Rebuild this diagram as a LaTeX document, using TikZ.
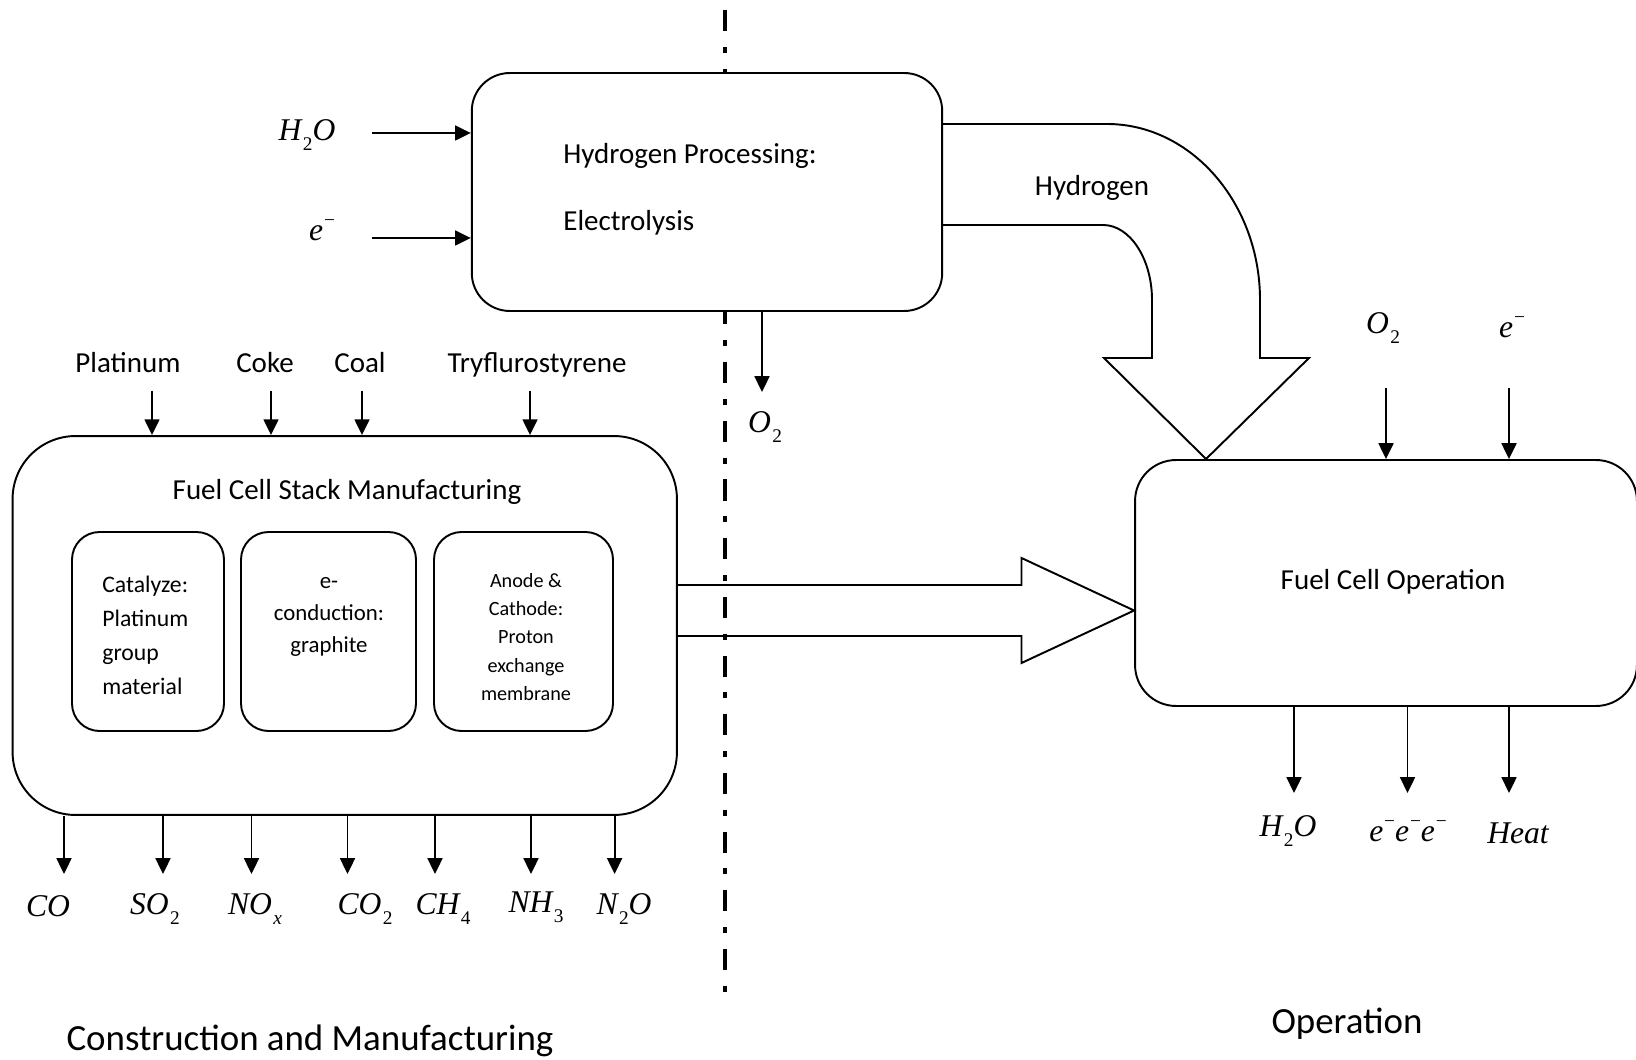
\documentclass[tikz,border=0pt]{standalone}
\usepackage{fontspec}
\setmainfont{Carlito}
\newfontfamily\tnr{Liberation Serif}
\usetikzlibrary{arrows.meta}

\newcommand{\chem}[1]{{\tnr\itshape\fontsize{18}{20}\selectfont #1}}
\newcommand{\lowsub}[1]{\kern0.8pt\raisebox{-0.7ex}{\fontsize{11}{11}\selectfont\upshape #1}}
\newcommand{\minussup}{\kern0.5pt\raisebox{1.0ex}{\fontsize{11}{11}\selectfont\upshape −}}

\tikzset{
	procbox/.style={draw,line width=1.1pt,fill=white,inner sep=0pt},
	flow/.style={line width=1.1pt,-{Triangle[length=9pt,width=8.5pt]}},
	blockarrow/.style={line width=1.1pt,line join=miter},
	sepline/.style={line width=2.8pt,dash pattern=on 12pt off 9pt on 3.4pt off 9pt},
	lbl/.style={inner sep=0pt,text height=1.6ex,text depth=0.4ex,font=\fontsize{16.5}{20}\selectfont},
	biglbl/.style={inner sep=0pt,text height=1.6ex,text depth=0.4ex,font=\fontsize{21}{24}\selectfont},
}

\begin{document}
\begin{tikzpicture}[x=0.02cm,y=-0.02cm]
	\useasboundingbox (0,0) rectangle (1636,1060);

	% dividing line
	\coordinate (septop) at (725,10);
	\coordinate (sepbot) at (725,992);
	\draw[sepline] (septop) -- (sepbot);

	% hydrogen processing
	\node[procbox,rounded corners=0.76cm,minimum width=9.41cm,minimum height=4.76cm] (hbox) at (707,192) {};
	\node[lbl,anchor=west] (hproc) at (563,158) {Hydrogen Processing:};
	\node[lbl,anchor=west] (elys) at (563,225) {Electrolysis};

	\node (h2oin) at (307,135) {\chem{H\lowsub{2}O}};
	\node (ein) at (322,230) {\chem{e\minussup}};
	\coordinate (h2otail) at (372,133);
	\coordinate (etail) at (372,238);
	\draw[flow] (h2otail) -- (h2otail -| hbox.west);
	\draw[flow] (etail) -- (etail -| hbox.west);

	\coordinate (o2tip) at (762,392);
	\draw[flow] (hbox.south -| o2tip) -- (o2tip);
	\node (o2out) at (765,427) {\chem{O\lowsub{2}}};

	\draw[blockarrow] (hbox.east |- 0,124) -- (1107,124)
		.. controls (1191,124) and (1260,203) .. (1260,300)
		-- (1260,358) -- (1309,358) -- (1206,459) -- (1104,358) -- (1152,358) -- (1152,300)
		.. controls (1152,259) and (1130,225) .. (1103,225) -- (hbox.east |- 0,225);
	\node[lbl] (hlabel) at (1092,190) {Hydrogen};

	% fuel cell stack manufacturing
	\node[procbox,rounded corners=1.26cm,minimum width=13.29cm,minimum height=7.58cm] (stack) at (344.75,625.5) {};
	\node[lbl] (stacktitle) at (347,494) {Fuel Cell Stack Manufacturing};

	\node[procbox,rounded corners=0.55cm,minimum width=3.04cm,minimum height=3.98cm] (catal) at (148,631.5) {};
	\node[procbox,rounded corners=0.55cm,minimum width=3.5cm,minimum height=3.98cm] (conduct) at (328.5,631.5) {};
	\node[procbox,rounded corners=0.55cm,minimum width=3.58cm,minimum height=3.98cm] (membr) at (523.5,631.5) {};
	\node[inner sep=0pt,anchor=west,align=left,font=\fontsize{13.5}{19.3}\selectfont] (catalt) at (102,635) {Catalyze:\\Platinum\\group\\material};
	\node[inner sep=0pt,align=center,font=\fontsize{13}{18.2}\selectfont] (conductt) at (329,617) {e-\\conduction:\\graphite};
	\node[inner sep=0pt,align=center,font=\fontsize{11.5}{16.2}\selectfont] (membrt) at (526,637) {Anode \&\\Cathode:\\Proton\\exchange\\membrane};

	\node[lbl] (platin) at (128,367) {Platinum};
	\node[lbl] (coke) at (265,367) {Coke};
	\node[lbl] (coal) at (360,367) {Coal};
	\node[lbl] (tfs) at (537,367) {Tryflurostyrene};
	\coordinate (platintail) at (152,391);
	\coordinate (coketail) at (271,391);
	\coordinate (coaltail) at (362,391);
	\coordinate (tfstail) at (530,391);
	\draw[flow] (platintail) -- (platintail |- stack.north);
	\draw[flow] (coketail) -- (coketail |- stack.north);
	\draw[flow] (coaltail) -- (coaltail |- stack.north);
	\draw[flow] (tfstail) -- (tfstail |- stack.north);

	\coordinate (cotip) at (64,874);
	\coordinate (sotip) at (163,874);
	\coordinate (noxtip) at (251.5,874);
	\coordinate (cotwotip) at (347.5,874);
	\coordinate (chtip) at (435,874);
	\coordinate (nhtip) at (531,874);
	\coordinate (ntwotip) at (614.6,874);
	\draw[flow] (stack.south -| cotip) -- (cotip);
	\draw[flow] (stack.south -| sotip) -- (sotip);
	\draw[flow] (stack.south -| noxtip) -- (noxtip);
	\draw[flow] (stack.south -| cotwotip) -- (cotwotip);
	\draw[flow] (stack.south -| chtip) -- (chtip);
	\draw[flow] (stack.south -| nhtip) -- (nhtip);
	\draw[flow] (stack.south -| ntwotip) -- (ntwotip);
	\node (co) at (48,906) {\chem{CO}};
	\node (so) at (155,909) {\chem{SO\lowsub{2}}};
	\node (nox) at (255,909) {\chem{NO\lowsub{\itshape x}}};
	\node (cotwo) at (365,909) {\chem{CO\lowsub{2}}};
	\node (ch) at (443,909) {\chem{CH\lowsub{4}}};
	\node (nh) at (536,907) {\chem{NH\lowsub{3}}};
	\node (ntwo) at (624,909) {\chem{N\lowsub{2}O}};

	% fuel cell operation
	\node[procbox,rounded corners=0.82cm,minimum width=10.04cm,minimum height=4.92cm] (opbox) at (1386,583) {};
	\node[lbl] (optitle) at (1393,584) {Fuel Cell Operation};

	\draw[blockarrow] (stack.east |- 0,585) -- (1021.5,585) -- (1021.5,558) -- (opbox.west |- 0,610.5)
		-- (1021.5,663) -- (1021.5,636) -- (stack.east |- 0,636);

	\node (o2in) at (1383,328) {\chem{O\lowsub{2}}};
	\node (eop) at (1512,327) {\chem{e\minussup}};
	\coordinate (o2tail) at (1386,388);
	\coordinate (eoptail) at (1509,388);
	\draw[flow] (o2tail) -- (o2tail |- opbox.north);
	\draw[flow] (eoptail) -- (eoptail |- opbox.north);

	\coordinate (h2otip) at (1294,793);
	\coordinate (electip) at (1407.5,793);
	\coordinate (heattip) at (1509,793);
	\draw[flow] (opbox.south -| h2otip) -- (h2otip);
	\draw[flow] (opbox.south -| electip) -- (electip);
	\draw[flow] (opbox.south -| heattip) -- (heattip);
	\node (h2oout) at (1288,831) {\chem{H\lowsub{2}O}};
	\node (elecout) at (1408,831) {\chem{e\minussup e\minussup e\minussup}};
	\node (heat) at (1518,833) {\chem{Heat}};

	% phase labels
	\node[biglbl] (conlabel) at (310,1045) {Construction and Manufacturing};
	\node[biglbl] (oplabel) at (1347,1028) {Operation};
\end{tikzpicture}
\end{document}
